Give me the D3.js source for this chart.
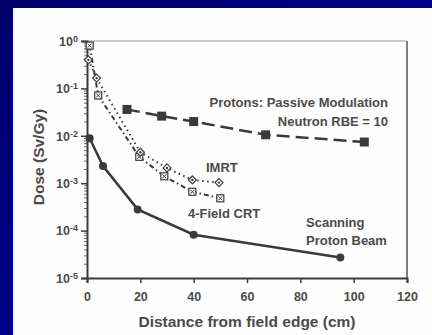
<!DOCTYPE html>
<html>
<head>
<meta charset="utf-8">
<script src="https://cdn.jsdelivr.net/npm/d3@7"></script>
<style>
  body { margin: 0; padding: 0; overflow: hidden; }
  svg { display: block; }
</style>
</head>
<body>
<script>
width = 432;
height = 335;

// series values: [distance cm, dose Sv/Gy]
passive = [[15, 0.036], [28, 0.026], [40, 0.02], [67, 0.0105], [104, 0.0074]];
scanning = [[1, 0.0089], [6, 0.0023], [19, 0.00028], [40, 0.000082], [95, 0.000027]];
imrt = [[0.5, 0.4], [3.6, 0.165], [20, 0.0045], [30, 0.0021], [39.5, 0.00117], [49.5, 0.00103]];
crt = [[1, 0.8], [4.2, 0.071], [19.6, 0.0036], [29, 0.0014], [39.5, 0.00066], [50, 0.00048]];

xTicks = [0, 20, 40, 60, 80, 100, 120];
yExps = [0, -1, -2, -3, -4, -5];

svg = d3.select("body").append("svg")
  .attr("width", width)
  .attr("height", height);

// slide background
defs = svg.append("defs");
grad = defs.append("linearGradient").attr("id", "bg")
  .attr("x1", "0").attr("y1", "0").attr("x2", "1").attr("y2", "1");
grad.append("stop").attr("offset", "0").attr("stop-color", "#00006a");
grad.append("stop").attr("offset", "0.5").attr("stop-color", "#000088");
grad.append("stop").attr("offset", "1").attr("stop-color", "#00007e");
svg.append("rect").attr("width", width).attr("height", height).attr("fill", "url(#bg)");
svg.append("rect").attr("x", 13).attr("y", 8)
  .attr("width", width - 13).attr("height", height - 8).attr("fill", "#fefefe");

x = d3.scaleLinear().domain([0, 120]).range([87, 407]);
y = d3.scaleLog().domain([1e-5, 1]).range([278, 41]);

ink = "#3a3a3a";
txt = "#4a4a4a";
font = "'Liberation Sans', Arial, sans-serif";

// frame top/right
svg.append("line").attr("x1", x(0)).attr("x2", x(120)).attr("y1", y(1)).attr("y2", y(1))
  .attr("stroke", "#9a9a9a").attr("stroke-width", 1);
svg.append("line").attr("x1", x(120)).attr("x2", x(120)).attr("y1", y(1)).attr("y2", y(1e-5))
  .attr("stroke", "#555").attr("stroke-width", 1.5);

// x axis
xAxis = svg.append("g").attr("transform", "translate(0," + y(1e-5) + ")")
  .call(d3.axisBottom(x).tickValues(xTicks).tickSize(5).tickPadding(9));
xAxis.select(".domain").attr("stroke", ink).attr("stroke-width", 2);
xAxis.selectAll(".tick line").attr("stroke", ink).attr("stroke-width", 1.5);
xAxis.selectAll(".tick text").attr("fill", txt).attr("font-family", font)
  .attr("font-size", 12.5).attr("font-weight", "bold");

// y axis, minor ticks first
minor = [];
for (var e = -5; e < 0; e++) {
  for (var m = 2; m < 10; m++) minor.push(m * Math.pow(10, e));
}
yMinor = svg.append("g").attr("transform", "translate(" + x(0) + ",0)")
  .call(d3.axisLeft(y).tickValues(minor).tickSize(3).tickFormat(""));
yMinor.select(".domain").remove();
yMinor.selectAll(".tick line").attr("stroke", "#666").attr("stroke-width", 1);

yAxis = svg.append("g").attr("transform", "translate(" + x(0) + ",0)")
  .call(d3.axisLeft(y).tickValues(yExps.map(function(d) { return Math.pow(10, d); }))
    .tickSize(6).tickFormat(""));
yAxis.select(".domain").attr("stroke", ink).attr("stroke-width", 2);
yAxis.selectAll(".tick line").attr("stroke", ink).attr("stroke-width", 1.5);
yAxis.selectAll(".tick").each(function(d) {
  var t = d3.select(this).append("text")
    .attr("x", -9).attr("dy", "0.35em")
    .attr("text-anchor", "end").attr("fill", txt)
    .attr("font-family", font).attr("font-size", 12.5).attr("font-weight", "bold");
  t.append("tspan").text("10");
  t.append("tspan").attr("dy", "-0.45em").attr("font-size", 9)
    .text(String(Math.round(Math.log10(d))));
});

// axis titles
svg.append("text").attr("x", x(60)).attr("y", 327)
  .attr("text-anchor", "middle").attr("fill", txt)
  .attr("font-family", font).attr("font-size", 15.5).attr("font-weight", "bold")
  .text("Distance from field edge (cm)");
svg.append("text")
  .attr("transform", "translate(44,157) rotate(-90)")
  .attr("text-anchor", "middle").attr("fill", txt)
  .attr("font-family", font).attr("font-size", 15.5).attr("font-weight", "bold")
  .text("Dose (Sv/Gy)");

line = d3.line().x(function(d) { return x(d[0]); }).y(function(d) { return y(d[1]); });

function drawLine(data, dash, w) {
  svg.append("path").datum(data).attr("d", line)
    .attr("fill", "none").attr("stroke", ink).attr("stroke-width", w)
    .attr("stroke-dasharray", dash);
}

drawLine(crt, "5,3,1.5,3", 2);
drawLine(imrt, "1.5,3.5", 2);
drawLine(passive, "13,6", 2.5);
drawLine(scanning, null, 2.5);

// markers
svg.selectAll(".psq").data(passive).enter().append("rect")
  .attr("x", function(d) { return x(d[0]) - 4.5; })
  .attr("y", function(d) { return y(d[1]) - 4.5; })
  .attr("width", 9).attr("height", 9).attr("fill", ink);

svg.selectAll(".scirc").data(scanning).enter().append("circle")
  .attr("cx", function(d) { return x(d[0]); })
  .attr("cy", function(d) { return y(d[1]); })
  .attr("r", 4).attr("fill", ink);

crtG = svg.selectAll(".crt").data(crt).enter().append("g")
  .attr("transform", function(d) { return "translate(" + x(d[0]) + "," + y(d[1]) + ")"; });
crtG.append("rect").attr("x", -3.5).attr("y", -3.5).attr("width", 7).attr("height", 7)
  .attr("fill", "#fff").attr("stroke", ink).attr("stroke-width", 1.2);
crtG.append("path").attr("d", "M-2,-2L2,2M-2,2L2,-2")
  .attr("stroke", ink).attr("stroke-width", 1);

imrtG = svg.selectAll(".imrt").data(imrt).enter().append("g")
  .attr("transform", function(d) { return "translate(" + x(d[0]) + "," + y(d[1]) + ")"; });
imrtG.append("path").attr("d", "M0,-4L4,0L0,4L-4,0Z")
  .attr("fill", "#fff").attr("stroke", ink).attr("stroke-width", 1.2);
imrtG.append("circle").attr("r", 1.2).attr("fill", ink);

// series labels
function label(s, xx, yy, anchor) {
  svg.append("text").attr("x", xx).attr("y", yy).attr("text-anchor", anchor)
    .attr("fill", txt).attr("font-family", font)
    .attr("font-size", 13).attr("font-weight", "bold").text(s);
}
label("Protons: Passive Modulation", 388, 107, "end");
label("Neutron RBE = 10", 388, 125.5, "end");
label("IMRT", 206, 171.5, "start");
label("4-Field CRT", 188, 217.5, "start");
label("Scanning", 306, 227, "start");
label("Proton Beam", 306, 244.5, "start");
</script>
</body>
</html>
